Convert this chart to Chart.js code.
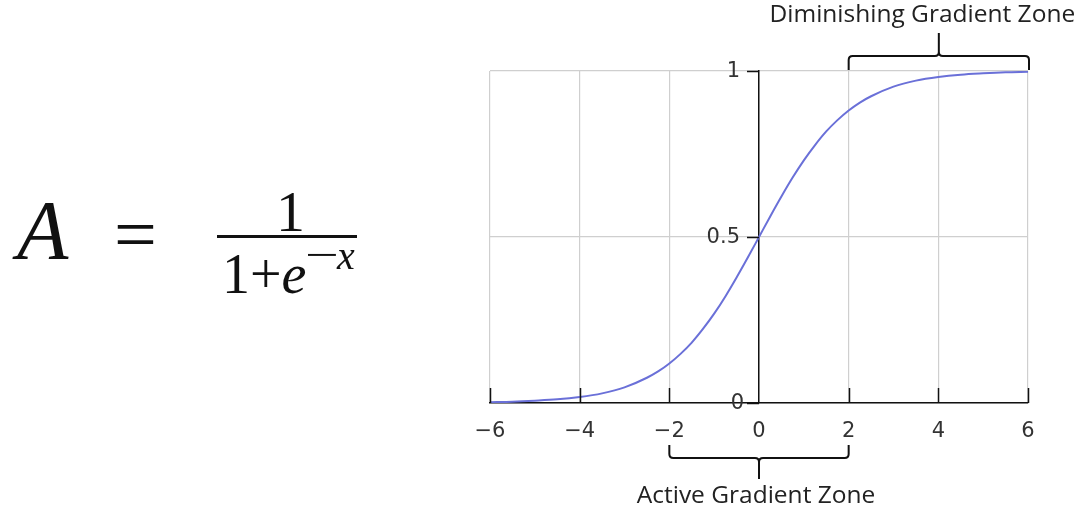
<!DOCTYPE html>
<html>
<head>
<meta charset="utf-8">
<script src="https://cdn.jsdelivr.net/npm/chart.js@4/dist/chart.umd.min.js"></script>
<style>
  html, body { margin: 0; padding: 0; background: #fff; }
  #wrap { position: relative; width: 1080px; height: 521px; }
  #sig { position: absolute; left: 0; top: 0; }
  .f { position: absolute; font-family: "Liberation Serif", "DejaVu Serif", serif; color: #111; line-height: 1; white-space: nowrap; }
</style>
</head>
<body>
<div id="wrap">
  <canvas id="sig" width="1080" height="521"></canvas>
  <div class="f" style="left:17px; top:189px; font-size:84px; font-style:italic;">A</div>
  <div class="f" style="left:114px; top:196px; font-size:76px;">=</div>
  <div class="f" style="left:276px; top:183px; font-size:58px;">1</div>
  <div style="position:absolute; left:217px; top:235px; width:140px; height:3px; background:#111;"></div>
  <div class="f" style="left:222px; top:246px; font-size:56px;">1+<i>e</i></div>
  <div class="f" style="left:305px; top:235px; font-size:40px; transform:scaleX(1.5); transform-origin:left top;">−</div>
  <div class="f" style="left:337px; top:236px; font-size:40px; font-style:italic;">x</div>
</div>
<script>
// sigmoid curve, values
const xs = [-6, -5.5, -5, -4.5, -4, -3.5, -3, -2.5, -2.25, -2, -1.75, -1.5, -1.25, -1, -0.75, -0.5, -0.25, 0, 0.25, 0.5, 0.75, 1, 1.25, 1.5, 1.75, 2, 2.25, 2.5, 3, 3.5, 4, 4.5, 5, 5.5, 6];
const ys = [0.0025, 0.004, 0.007, 0.011, 0.018, 0.029, 0.047, 0.076, 0.095, 0.119, 0.148, 0.182, 0.223, 0.269, 0.321, 0.378, 0.438, 0.5, 0.562, 0.622, 0.679, 0.731, 0.777, 0.818, 0.852, 0.881, 0.905, 0.924, 0.953, 0.971, 0.982, 0.989, 0.993, 0.996, 0.9975];
const xTicks = [-6, -4, -2, 0, 2, 4, 6];
const yTicks = [0, 0.5, 1];
const activeZone = [-2, 2];
const diminishingZone = [2, 6];
const activeLabel = 'Active Gradient Zone';
const diminishingLabel = 'Diminishing Gradient Zone';

const fmt = v => (v < 0 ? '\u2212' + Math.abs(v) : String(v));

// inward ticks on the bottom axis, ticks + labels left of the centre axis, braces
const extras = {
    id: 'extras',
    afterDraw(chart) {
        const ctx = chart.ctx;
        const x = chart.scales.x, y = chart.scales.y;
        const bottom = y.getPixelForValue(0);
        const x0 = x.getPixelForValue(0);
        ctx.save();
        ctx.strokeStyle = '#111';
        ctx.lineWidth = 1.5;
        xTicks.forEach(t => {
            if (t === 0) return;
            const px = Math.round(x.getPixelForValue(t)) + 0.5;
            ctx.beginPath();
            ctx.moveTo(px, bottom);
            ctx.lineTo(px, bottom - 15);
            ctx.stroke();
        });
        ctx.fillStyle = '#333';
        ctx.font = '21px "DejaVu Sans"';
        ctx.textAlign = 'right';
        ctx.textBaseline = 'middle';
        y.ticks.forEach(t => {
            const py = Math.round(y.getPixelForValue(t.value)) + 0.5;
            ctx.beginPath();
            ctx.moveTo(x0, py);
            ctx.lineTo(x0 - 12, py);
            ctx.stroke();
            ctx.fillText(fmt(t.value), x0 - (t.value === 0 ? 15 : 19), py);
        });

        function brace(x1, x2, yEdge, yMid, yTip) {
            const dir = Math.sign(yMid - yEdge);
            const xm = (x1 + x2) / 2;
            const r = 4;
            ctx.beginPath();
            ctx.moveTo(x1, yEdge);
            ctx.lineTo(x1, yMid - dir * r);
            ctx.quadraticCurveTo(x1, yMid, x1 + r, yMid);
            ctx.lineTo(xm - r, yMid);
            ctx.quadraticCurveTo(xm, yMid, xm, yMid + dir * r);
            ctx.lineTo(xm, yTip);
            ctx.moveTo(xm, yMid + dir * r);
            ctx.quadraticCurveTo(xm, yMid, xm + r, yMid);
            ctx.lineTo(x2 - r, yMid);
            ctx.quadraticCurveTo(x2, yMid, x2, yMid - dir * r);
            ctx.lineTo(x2, yEdge);
            ctx.stroke();
        }
        ctx.lineWidth = 2;
        const top = y.getPixelForValue(1);
        brace(x.getPixelForValue(diminishingZone[0]), x.getPixelForValue(diminishingZone[1]) + 1, top - 1, top - 15, top - 38);
        brace(x.getPixelForValue(activeZone[0]), x.getPixelForValue(activeZone[1]), bottom + 42, bottom + 55, bottom + 76);

        ctx.fillStyle = '#222';
        ctx.font = '24.5px "Open Sans", sans-serif';
        ctx.textAlign = 'center';
        ctx.textBaseline = 'alphabetic';
        ctx.fillText(diminishingLabel, (x.getPixelForValue(diminishingZone[0]) + x.getPixelForValue(diminishingZone[1])) / 2 - 16, 22);
        ctx.fillText(activeLabel, (x.getPixelForValue(activeZone[0]) + x.getPixelForValue(activeZone[1])) / 2 - 3, bottom + 100);
        ctx.restore();
    }
};

new Chart(document.getElementById('sig'), {
    type: 'line',
    data: {
        datasets: [{
            data: xs.map((v, i) => ({ x: v, y: ys[i] })),
            borderColor: '#6a70d8',
            borderWidth: 2,
            pointRadius: 0,
            cubicInterpolationMode: 'monotone',
            fill: false,
        }]
    },
    options: {
        responsive: false,
        animation: false,
        layout: { padding: { left: 490, right: 52, top: 71, bottom: 0 } },
        plugins: { legend: { display: false }, tooltip: { enabled: false } },
        scales: {
            x: {
                type: 'linear', min: -6, max: 6,
                afterFit: s => { s.height = 118; },
                afterBuildTicks: s => { s.ticks = xTicks.map(v => ({ value: v })); },
                grid: { color: '#cfcfcf', lineWidth: 1.2, drawTicks: false },
                border: { color: '#111', width: 1.5 },
                ticks: { padding: 16, color: '#333', font: { family: 'DejaVu Sans', size: 21 }, callback: v => fmt(v), maxRotation: 0 },
            },
            y: {
                type: 'linear', min: 0, max: 1,
                position: { x: 0 },
                afterBuildTicks: s => { s.ticks = yTicks.map(v => ({ value: v })); },
                grid: { color: '#cfcfcf', lineWidth: 1.2, drawTicks: false },
                border: { color: '#111', width: 1.5 },
                ticks: { display: false },
            }
        }
    },
    plugins: [extras]
});
</script>
</body>
</html>
